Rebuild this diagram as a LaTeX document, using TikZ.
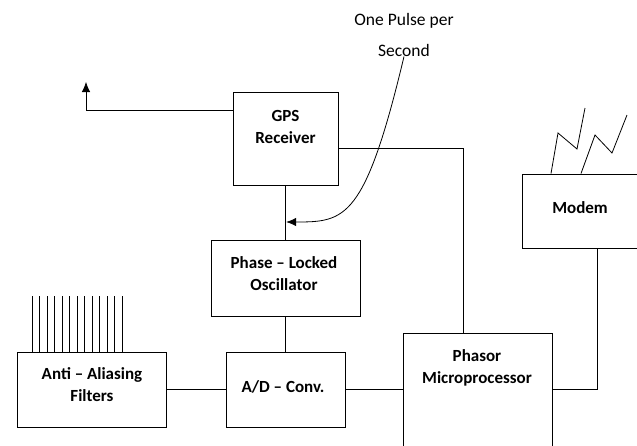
\documentclass[tikz,border=0pt]{standalone}
\usepackage{fontspec}
\setmainfont{Carlito}
\usetikzlibrary{arrows.meta,positioning}

\begin{document}
\begin{tikzpicture}[x=1pt, y=-1pt, line width=0.8pt,
  every node/.style={font=\fontsize{17}{22}\selectfont, align=center, inner sep=0pt},
  blockbox/.style={draw, line width=1pt},
  blocktext/.style={font=\fontsize{17}{22}\selectfont\bfseries},
  sig/.style={-{Latex[length=10pt,width=8.5pt]}}]
\useasboundingbox (0,0) rectangle (637,445);
% blocks
\node[blockbox, minimum width=105pt, minimum height=93pt] (gps) at (285.5,138.5) {};
\node[blocktext] (gpstext) at (285.5,127) {GPS\\Receiver};
\node[blockbox, minimum width=149pt, minimum height=76pt] (pll) at (285.5,278) {};
\node[blocktext] (plltext) at (284,274) {Phase -- Locked\\Oscillator};
\node[blockbox, minimum width=149pt, minimum height=75pt] (aaf) at (91.5,389.5) {};
\node[blocktext] (aaftext) at (92,385) {Anti -- Aliasing\\Filters};
\node[blockbox, minimum width=119pt, minimum height=75pt] (adc) at (285.5,389.5) {};
\node[blocktext] (adctext) at (283,387) {A/D -- Conv.};
\node[blockbox, minimum width=149pt, minimum height=113pt] (pmp) at (477.5,389.5) {};
\node[blocktext] (pmptext) at (477,368) {Phasor\\Microprocessor};
\node[blockbox, minimum width=118pt, minimum height=74pt] (modem) at (581,211) {};
\node[blocktext] (modemtext) at (580,208) {Modem};
% one pulse per second
\node[font=\fontsize{17.5}{31}\selectfont] (pps) at (404,34.5) {One Pulse per\\Second};
\coordinate (pllin) at (286.2,222);
\coordinate (gpsup) at (86,82);
% connectors
\draw[sig] ([yshift=28.5pt]gps.west) -| (gpsup);
\draw ([yshift=-9.5pt]gps.east) -| ([xshift=-14.5pt]pmp.north);
\draw (gps.south) -- (pll.north);
\draw[sig] (pps.south) .. controls (365,220) and (345,222) .. (pllin);
\draw (pll.south) -- (adc.north);
\draw (aaf.east) -- (adc.west);
\draw (adc.east) -- (pmp.west);
\draw (pmp.east) -| ([xshift=16pt]modem.south);
% analog inputs
\foreach \i in {0,...,12}
  \draw ({32+7.5*\i},296) -- ({32+7.5*\i},296 |- aaf.north);
% radio link
\draw ([xshift=-30pt]modem.north) -- (558,133) -- (577,149) -- (585,108);
\draw ([xshift=0pt]modem.north) -- (595,135) -- (612,153) -- (627,115);
\end{tikzpicture}
\end{document}
